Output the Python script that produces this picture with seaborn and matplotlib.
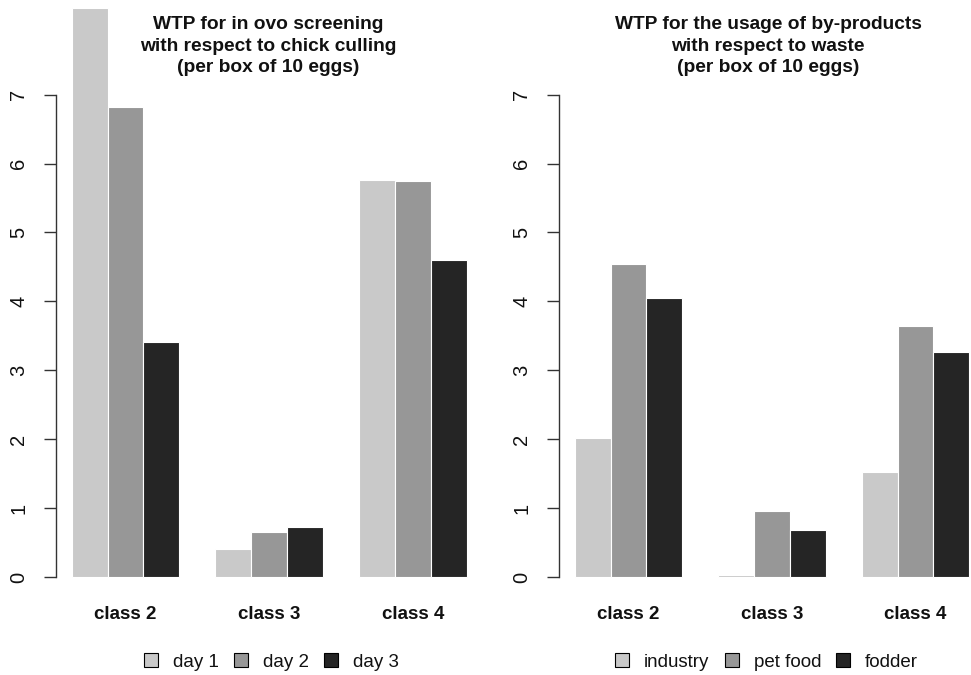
import matplotlib
matplotlib.use("Agg")
import matplotlib.pyplot as plt
from matplotlib.patches import Patch
import seaborn as sns
import pandas as pd

classes = ["class 2", "class 3", "class 4"]

left_groups = ["day 1", "day 2", "day 3"]
left_day1 = [8.26, 0.41, 5.76]
left_day2 = [6.82, 0.66, 5.75]
left_day3 = [3.41, 0.73, 4.60]

right_groups = ["industry", "pet food", "fodder"]
right_industry = [2.01, 0.03, 1.53]
right_petfood = [4.54, 0.96, 3.64]
right_fodder = [4.05, 0.68, 3.26]

left_title = "WTP for in ovo screening\nwith respect to chick culling\n(per box of 10 eggs)"
right_title = "WTP for the usage of by-products\nwith respect to waste\n(per box of 10 eggs)"
yticks = [0, 1, 2, 3, 4, 5, 6, 7]

colors = ["#C9C9C9", "#979797", "#252525"]

sns.set_style("white")
plt.rcParams["font.family"] = ["Liberation Sans", "DejaVu Sans"]
plt.rcParams["text.color"] = "#111111"
plt.rcParams["xtick.color"] = "#111111"
plt.rcParams["ytick.color"] = "#111111"

W, H = 971, 675
fig = plt.figure(figsize=(W / 100, H / 100), dpi=100)


def frac_box(x0, x1, ytop, ybot):
    return [x0 / W, 1 - ybot / H, (x1 - x0) / W, (ybot - ytop) / H]


def make_df(groups, series):
    rows = []
    for g, vals in zip(groups, series):
        for c, v in zip(classes, vals):
            rows.append({"cls": c, "grp": g, "val": v})
    return pd.DataFrame(rows)


def draw(ax, df, groups, xlim):
    sns.barplot(data=df, x="cls", y="val", hue="grp", order=classes,
                hue_order=groups, palette=colors, width=0.75,
                edgecolor="white", linewidth=0.8, saturation=1,
                ax=ax, legend=False)
    ax.set_xlim(*xlim)
    ax.set_ylim(-0.334, 8.373)
    ax.set_xlabel("")
    ax.set_ylabel("")
    for s in ["top", "right", "bottom"]:
        ax.spines[s].set_visible(False)
    ax.spines["left"].set_bounds(0, 7)
    ax.spines["left"].set_color("#333333")
    ax.spines["left"].set_linewidth(1.0)
    ax.set_yticks(yticks)
    ax.set_yticklabels([str(t) for t in yticks], rotation=90, va="center",
                       fontsize=14.5, color="#111111")
    ax.tick_params(axis="y", length=9, width=1.0, color="#333333", pad=11,
                   left=True)
    ax.tick_params(axis="x", length=0, pad=4.5)
    for lab in ax.get_xticklabels():
        lab.set_fontweight("bold")
        lab.set_fontsize(13.5)
        lab.set_color("#111111")
    ax.patch.set_alpha(0)


# left panel
axL = fig.add_axes(frac_box(55.9, 482.4, 0, 600))
draw(axL, make_df(left_groups, [left_day1, left_day2, left_day3]),
     left_groups, (-0.485, 2.485))

# right panel (plot region extends past the figure edge)
axR = fig.add_axes(frac_box(558.9, 971, 0, 600))
draw(axR, make_df(right_groups, [right_industry, right_petfood, right_fodder]),
     right_groups, (-0.485, -0.485 + (971 - 558.9) / 143.5))

# titles
fig.text(268 / W, 1 - 46.2 / H, left_title, ha="center", va="center",
         ma="center", fontsize=13.8, fontweight="bold", linespacing=1.36)
fig.text(768 / W, 1 - 46.2 / H, right_title, ha="center", va="center",
         ma="center", fontsize=13.8, fontweight="bold", linespacing=1.36)


def add_legend(ax, groups, xc):
    handles = [Patch(facecolor=c, edgecolor="black", linewidth=0.8, label=g)
               for c, g in zip(colors, groups)]
    ax.legend(handles=handles, loc="center", ncol=3, frameon=False,
              bbox_to_anchor=(xc / W, 1 - 662 / H),
              bbox_transform=fig.transFigure, fontsize=13.5,
              handlelength=0.75, handleheight=0.75, handletextpad=0.8,
              columnspacing=0.8, borderpad=0, borderaxespad=0)


add_legend(axL, left_groups, 271.5)
add_legend(axR, right_groups, 766.7)

fig.savefig("out.png", dpi=100)
